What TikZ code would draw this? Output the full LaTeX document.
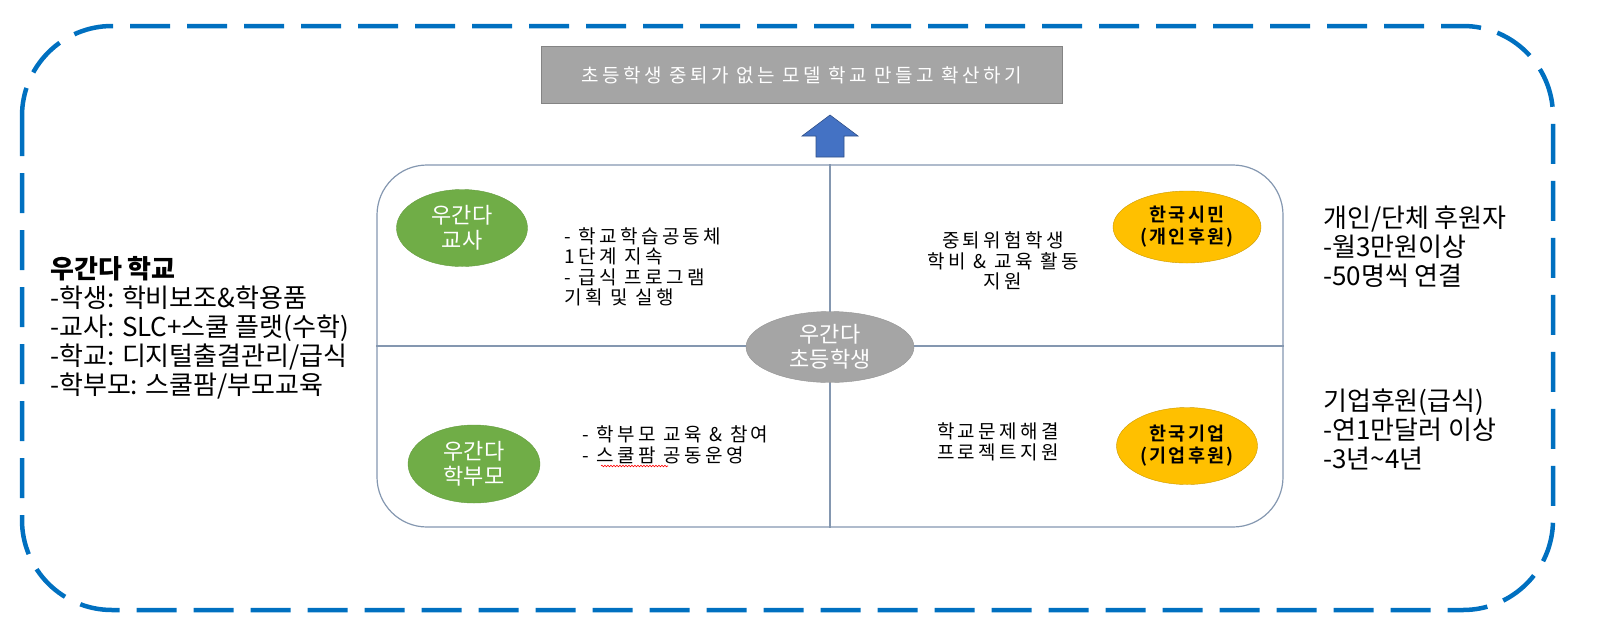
\documentclass[tikz,border=0pt]{standalone}
\usepackage{fontspec}
\setmainfont{Noto Sans CJK KR}
\newfontfamily\gul[LetterSpace=18]{Noto Sans CJK KR}
\newfontfamily\gulb[LetterSpace=12]{Noto Sans CJK KR Bold}
\usetikzlibrary{shapes.geometric,decorations.pathmorphing}

\definecolor{dashblue}{HTML}{0070C0}
\definecolor{goalgray}{HTML}{A5A5A5}
\definecolor{arrowblue}{HTML}{4472C4}
\definecolor{boxline}{HTML}{8497B0}
\definecolor{leafgreen}{HTML}{70AD47}
\definecolor{gold}{HTML}{FFC000}

\tikzset{
  frame/.style={draw=dashblue, line width=4.5pt, dash pattern=on 40pt off 17pt, rounded corners=90pt},
  goalbox/.style={fill=goalgray, draw=goalgray!80!black, minimum width=521pt, minimum height=57pt,
    text=white, font=\gul\fontsize{19}{21}\selectfont},
  uparrow/.style={fill=arrowblue, draw=arrowblue!70!black, line width=0.6pt},
  fieldbox/.style={draw=boxline, line width=1.2pt, rounded corners=50pt, minimum width=906pt, minimum height=362pt},
  split/.style={draw=boxline, line width=1.2pt},
  who/.style={ellipse, draw=#1!90!black, fill=#1, inner sep=0, text=white, align=center,
    font=\fontsize{22}{25}\selectfont},
  sponsor/.style={ellipse, draw=gold!80!black, fill=gold, inner sep=0, align=center,
    font=\gulb\fontsize{18.5}{22}\selectfont},
  task/.style={inner sep=0, font=\gul\fontsize{19}{20.5}\selectfont},
  side/.style={inner sep=0, anchor=west, align=left, font=\fontsize{26}{29}\selectfont},
  spell/.style={draw=red, line width=0.6pt, decorate, decoration={snake, amplitude=0.8pt, segment length=3pt}}
}

\begin{document}
\begin{tikzpicture}[x=1pt, y=-1pt]
  \useasboundingbox (0,0) rectangle (1614,630);
  \draw[frame] (22,26) rectangle (1553,610);

  % goal and arrow
  \node[goalbox] (goal) at (802,75) {초등학생 중퇴가 없는 모델 학교 만들고 확산하기};
  \filldraw[uparrow] (816,157) -- (816,136) -- (802,136) -- (830,115) -- (858,136)
    -- (844,136) -- (844,157) -- cycle;

  % four fields
  \node[fieldbox] (field) at (830,346) {};
  \draw[split] (field.north) -- (field.south);
  \draw[split] (field.west) -- (field.east);

  \node[who=leafgreen, minimum width=131pt, minimum height=77pt] (teacher) at (462,228) {우간다\\교사};
  \node[who=leafgreen, minimum width=132pt, minimum height=78pt] (parent) at (474,464) {우간다\\학부모};
  \node[who=goalgray, minimum width=168pt, minimum height=71pt] (pupil) at (830,347) {우간다\\초등학생};
  \node[sponsor, minimum width=148pt, minimum height=72pt] (citizen) at (1187,227) {한국시민\\(개인후원)};
  \node[sponsor, minimum width=141pt, minimum height=77pt] (company) at (1187,446) {한국기업\\(기업후원)};

  \node[task, anchor=west, align=left] (tteach) at (564,267)
    {- 학교학습공동체\\1단계 지속\\- 급식 프로그램\\기획 및 실행};
  \node[task, anchor=west, align=left] (tparent) at (582,445)
    {- 학부모 교육 \& 참여\\- 스쿨팜 공동운영};
  \draw[spell] (601,466) -- (668,466);
  \node[task, align=center] (tcitizen) at (1003,261)
    {중퇴위험학생\\학비 \& 교육 활동\\지원};
  \node[task, align=center] (tcompany) at (998,442)
    {학교문제해결\\프로젝트지원};

  % side notes
  \node[side] (school) at (50,328)
    {\textbf{우간다 학교}\\-학생: 학비보조\&학용품\\-교사: SLC+스쿨 플랫(수학)\\-학교: 디지털출결관리/급식\\-학부모: 스쿨팜/부모교육};
  \node[side] (donor) at (1323,247) {개인/단체 후원자\\-월3만원이상\\-50명씩 연결};
  \node[side] (corp) at (1323,429) {기업후원(급식)\\-연1만달러 이상\\-3년\textasciitilde4년};
\end{tikzpicture}
\end{document}
